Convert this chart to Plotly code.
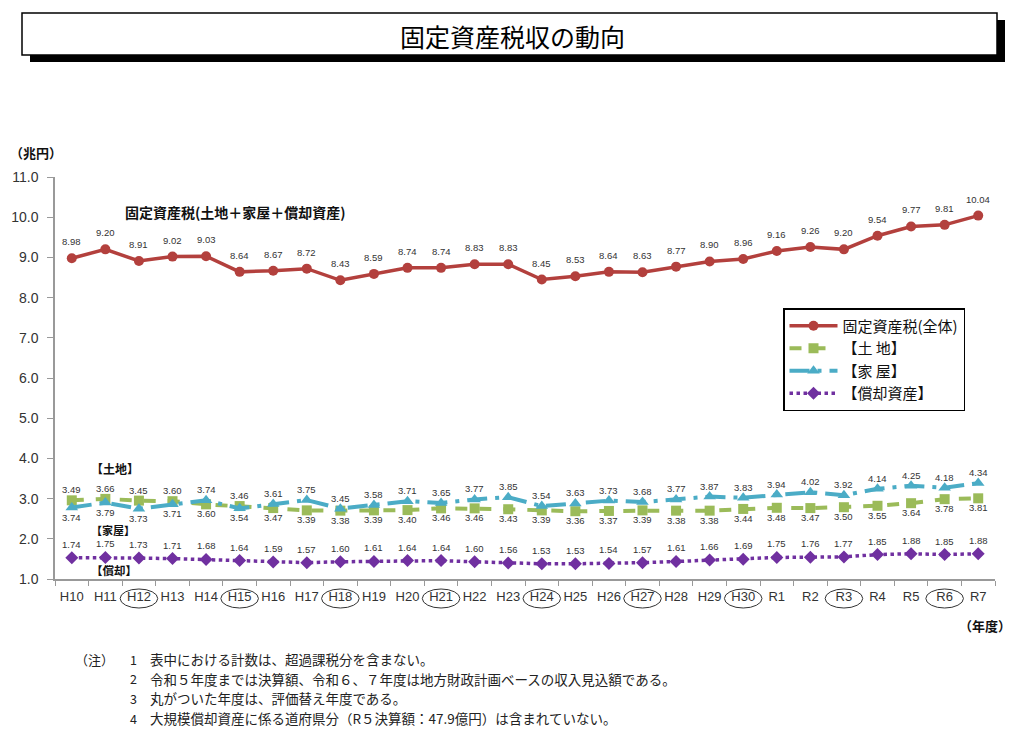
import plotly.graph_objects as go

years = ["H10","H11","H12","H13","H14","H15","H16","H17","H18","H19","H20","H21","H22","H23",
         "H24","H25","H26","H27","H28","H29","H30","R1","R2","R3","R4","R5","R6","R7"]
revaluation_years = ["H12","H15","H18","H21","H24","H27","H30","R3","R6"]

total = [8.98, 9.20, 8.91, 9.02, 9.03, 8.64, 8.67, 8.72, 8.43, 8.59, 8.74, 8.74, 8.83, 8.83,
         8.45, 8.53, 8.64, 8.63, 8.77, 8.90, 8.96, 9.16, 9.26, 9.20, 9.54, 9.77, 9.81, 10.04]
land = [3.74, 3.79, 3.73, 3.71, 3.60, 3.54, 3.47, 3.39, 3.38, 3.39, 3.40, 3.46, 3.46, 3.43,
        3.39, 3.36, 3.37, 3.39, 3.38, 3.38, 3.44, 3.48, 3.47, 3.50, 3.55, 3.64, 3.78, 3.81]
house = [3.49, 3.66, 3.45, 3.60, 3.74, 3.46, 3.61, 3.75, 3.45, 3.58, 3.71, 3.65, 3.77, 3.85,
         3.54, 3.63, 3.73, 3.68, 3.77, 3.87, 3.83, 3.94, 4.02, 3.92, 4.14, 4.25, 4.18, 4.34]
depr = [1.74, 1.75, 1.73, 1.71, 1.68, 1.64, 1.59, 1.57, 1.60, 1.61, 1.64, 1.64, 1.60, 1.56,
        1.53, 1.53, 1.54, 1.57, 1.61, 1.66, 1.69, 1.75, 1.76, 1.77, 1.85, 1.88, 1.85, 1.88]

y_ticks = [1.0, 2.0, 3.0, 4.0, 5.0, 6.0, 7.0, 8.0, 9.0, 10.0, 11.0]

JP = "Noto Sans CJK JP"
NUM = "Liberation Sans"

# page is shown with an 8px body margin
OFF = 8
W, H = 1024 - 2 * OFF, 741 - 2 * OFF
# plot area in page pixels
PL, PR, PT, PB = 55, 995, 177, 579


def px(x):
    return (x - PL) / (PR - PL)


def py(y):
    return (PB - y) / (PB - PT)


fig = go.Figure()

fig.add_trace(go.Scatter(
    x=years, y=total, name="固定資産税(全体)", legendgroup="a",
    mode="lines+markers",
    line=dict(color="#B3403D", width=3.5),
    marker=dict(symbol="circle", size=10, color="#B3403D"),
))
fig.add_trace(go.Scatter(
    x=years, y=land, name="【土 地】", legendgroup="b", yaxis="y2",
    mode="lines+markers",
    line=dict(color="#9BBB59", width=4, dash="dash"),
    marker=dict(symbol="square", size=10, color="#9BBB59"),
))
fig.add_trace(go.Scatter(
    x=years, y=house, name="【家 屋】", legendgroup="c", yaxis="y2",
    mode="lines+markers",
    line=dict(color="#4BACC6", width=4, dash="longdashdot"),
    marker=dict(symbol="triangle-up", size=11, color="#4BACC6"),
))
fig.add_trace(go.Scatter(
    x=years, y=depr, name="【償却資産】", legendgroup="d", yaxis="y2",
    mode="lines+markers",
    line=dict(color="#7030A0", width=3.5, dash="dot"),
    marker=dict(symbol="diamond", size=10, color="#7030A0"),
))

LBL = dict(family=NUM, size=9.5, color="#333333")
annotations = []
for yr, v in zip(years, total):
    annotations.append(dict(x=yr, y=v, xref="x", yref="y", text=f"{v:.2f}",
                            showarrow=False, yanchor="bottom", yshift=9, font=LBL))
for yr, v in zip(years, depr):
    annotations.append(dict(x=yr, y=v, xref="x", yref="y2", text=f"{v:.2f}",
                            showarrow=False, yanchor="bottom", yshift=6, font=LBL))
# labels for house (upper row) and land (lower row)
for yr, h, l in zip(years, house, land):
    annotations.append(dict(x=yr, y=max(h, l), xref="x", yref="y2", text=f"{h:.2f}",
                            showarrow=False, yanchor="bottom", yshift=3, font=LBL))
    annotations.append(dict(x=yr, y=min(h, l), xref="x", yref="y2", text=f"{l:.2f}",
                            showarrow=False, yanchor="top", yshift=-2, font=LBL))


def txt(x, y, s, size=12, bold=False, xanchor="left", family=JP, color="#111111"):
    annotations.append(dict(x=px(x), y=py(y), xref="paper", yref="paper",
                            text=f"<b>{s}</b>" if bold else s, showarrow=False,
                            xanchor=xanchor, yanchor="middle", borderpad=0,
                            font=dict(family=family, size=size, color=color)))


txt(512, 36, "固定資産税収の動向", size=25, xanchor="center", color="#000000")
txt(9, 152, "（兆円）", size=13, bold=True)
txt(1012, 625, "（年度）", size=13, bold=True, xanchor="right")
txt(124, 212, "固定資産税(土地＋家屋＋償却資産)", size=14, bold=True)
txt(90, 468, "【土地】", size=12, bold=True)
txt(90, 530, "【家屋】", size=11, bold=True)
txt(90, 570, "【償却】", size=11.5, bold=True)

notes = [
    "表中における計数は、超過課税分を含まない。",
    "令和５年度までは決算額、令和６、７年度は地方財政計画ベースの収入見込額である。",
    "丸がついた年度は、評価替え年度である。",
    "大規模償却資産に係る道府県分（R５決算額：47.9億円）は含まれていない。",
]
NOTE_C = "#222222"
txt(74, 659, "（注）", size=13, color=NOTE_C)
for i, n in enumerate(notes):
    yy = 659 + i * 19.7
    txt(129, yy, str(i + 1), size=12.5, color=NOTE_C)
    txt(149, yy, n, size=13.5, color=NOTE_C)

shapes = []
# title box with shadow
shapes.append(dict(type="rect", xref="paper", yref="paper",
                   x0=px(30), x1=px(1005), y0=py(62), y1=py(20),
                   fillcolor="#000000", line=dict(width=0), layer="above"))
shapes.append(dict(type="rect", xref="paper", yref="paper",
                   x0=px(22), x1=px(997), y0=py(55), y1=py(13),
                   fillcolor="#FFFFFF", line=dict(color="#000000", width=1.5), layer="above"))
# ellipses around revaluation years
for yr in revaluation_years:
    i = years.index(yr)
    shapes.append(dict(type="circle", xref="x", yref="paper",
                       x0=i - 0.56, x1=i + 0.56, y0=py(608), y1=py(589),
                       line=dict(color="#333333", width=1), layer="above"))

fig.update_layout(
    width=W, height=H,
    margin=dict(l=PL - OFF, r=W - (PR - OFF), t=PT - OFF, b=H - (PB - OFF), pad=0),
    paper_bgcolor="white", plot_bgcolor="white",
    showlegend=True,
    legend=dict(x=px(783), y=py(308), xanchor="left", yanchor="top",
                bordercolor="#000000", borderwidth=1.5, bgcolor="white",
                font=dict(family=JP, size=15, color="#111111"),
                tracegroupgap=6, itemwidth=48, traceorder="normal"),
    xaxis=dict(type="category", categoryorder="array", categoryarray=years,
               range=[-0.5, len(years) - 0.5], automargin=False,
               showline=True, linecolor="#999999", linewidth=1.5,
               ticks="outside", tickson="boundaries", ticklen=5, tickcolor="#999999",
               ticklabelstandoff=5,
               showgrid=False, zeroline=False,
               tickfont=dict(family=NUM, size=13, color="#333333")),
    yaxis=dict(range=[1.0, 11.0], tickvals=y_ticks, tickformat=".1f", automargin=False,
               showline=True, linecolor="#999999", linewidth=1.5,
               ticks="outside", ticklen=6, tickcolor="#999999",
               ticklabelstandoff=6,
               showgrid=False, zeroline=False,
               tickfont=dict(family=NUM, size=14, color="#333333")),
    yaxis2=dict(range=[1.0, 15.0], overlaying="y", visible=False, showgrid=False,
                automargin=False),
    annotations=annotations,
    shapes=shapes,
)

fig.write_html("out.html")
